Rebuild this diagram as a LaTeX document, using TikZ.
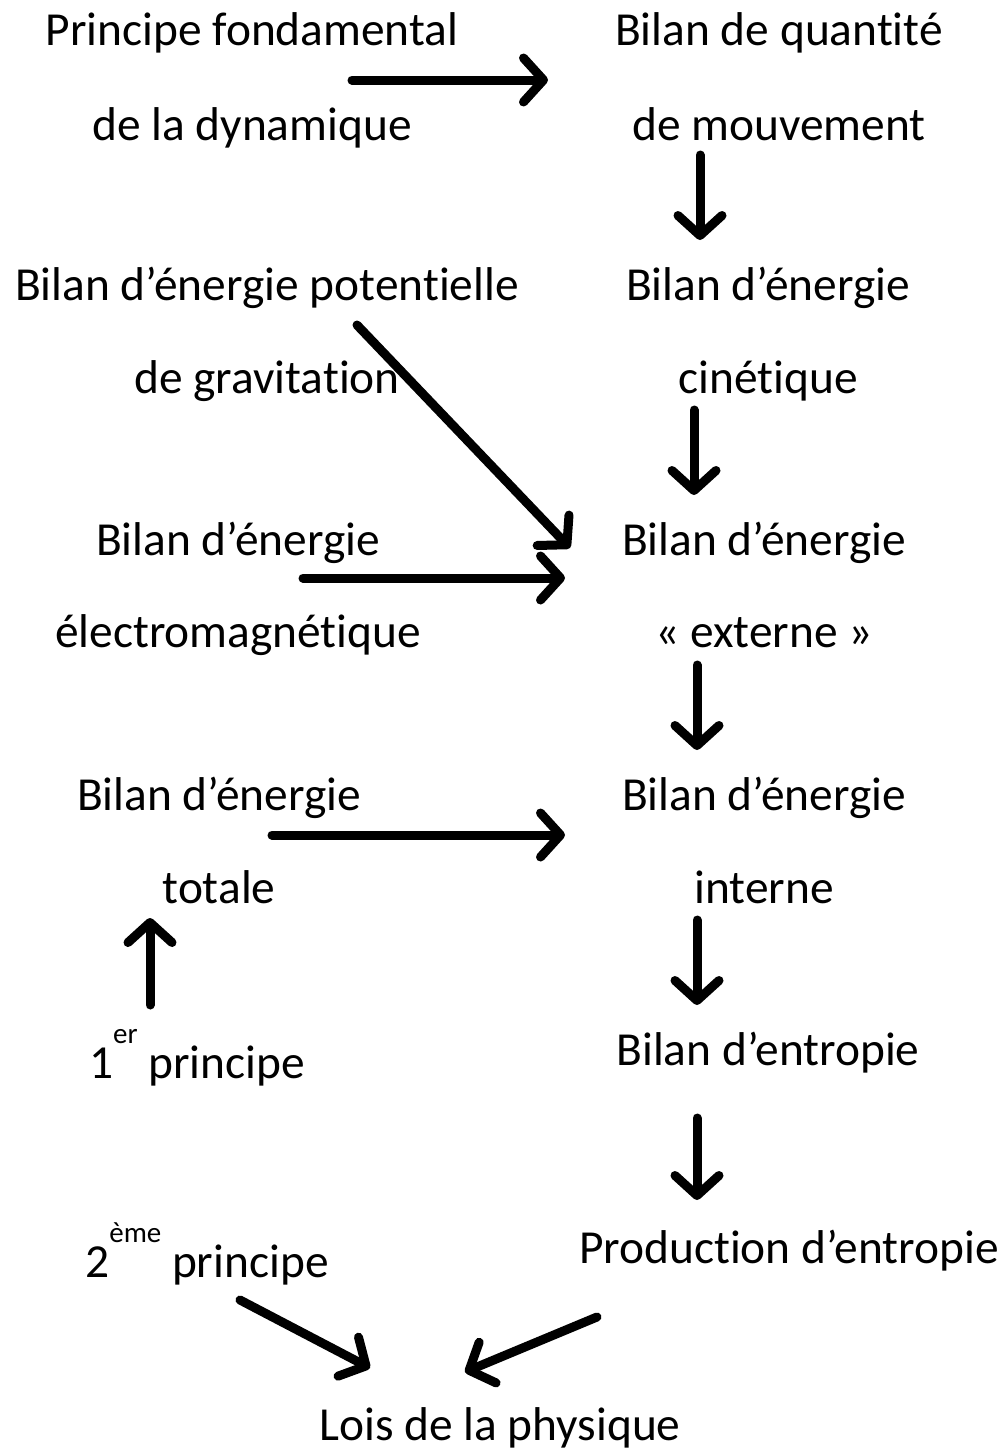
\documentclass[tikz,border=0pt]{standalone}
\usepackage{fontspec}
\setmainfont{Carlito}[Ligatures=NoCommon]
\usetikzlibrary{arrows.meta}

\begin{document}
\begin{tikzpicture}[x=1pt, y=-1pt,
    every node/.style={font=\fontsize{47.4}{56}\selectfont, inner sep=0pt, anchor=base},
    fleche/.style={line width=9pt, line cap=round, line join=round,
      -{Straight Barb[length=20pt, width=44pt, line cap=round, line join=round]}}]
  \useasboundingbox (0,0) rectangle (1007,1456);

  \node (pfdA) at (252,45) {Principe fondamental};
  \node (pfdB) at (252,140) {de la dynamique};
  \node (bqmA) at (779,45) {Bilan de quantité};
  \node (bqmB) at (779,140) {de mouvement};
  \node (potA) at (267,300) {Bilan d’énergie potentielle};
  \node (potB) at (267,393) {de gravitation};
  \node (cinA) at (768,300) {Bilan d’énergie};
  \node (cinB) at (768,393) {cinétique};
  \node (emA) at (238,555) {Bilan d’énergie};
  \node (emB) at (238,647) {électromagnétique};
  \node (extA) at (764,555) {Bilan d’énergie};
  \node (extB) at (764,647) {« externe »};
  \node (totA) at (219,810) {Bilan d’énergie};
  \node (totB) at (219,903) {totale};
  \node (intA) at (764,810) {Bilan d’énergie};
  \node (intB) at (764,903) {interne};
  \node (prem) at (197,1078) {1\raisebox{0.72em}{\fontsize{29}{29}\selectfont er} principe};
  \node (entr) at (768,1065) {Bilan d’entropie};
  \node (deux) at (207,1277) {2\raisebox{0.72em}{\fontsize{29}{29}\selectfont ème} principe};
  \node (prod) at (789,1263) {Production d’entropie};
  \node (lois) at (500,1440) {Lois de la physique};

  \coordinate (pfdOut) at (352,80);  \coordinate (bqmIn) at (548,80);
  \coordinate (bqmOut) at (700,155); \coordinate (cinIn) at (700,240);
  \coordinate (potOut) at (357,325); \coordinate (extInP) at (570,548);
  \coordinate (cinOut) at (694,410); \coordinate (extInC) at (694,495);
  \coordinate (emOut) at (303,578);  \coordinate (extInE) at (565,578);
  \coordinate (extOut) at (697,665); \coordinate (intInE) at (697,750);
  \coordinate (totOut) at (272,835); \coordinate (intInT) at (565,835);
  \coordinate (intOut) at (697,920); \coordinate (entrIn) at (697,1005);
  \coordinate (premOut) at (150,1005); \coordinate (totIn) at (150,918);
  \coordinate (entrOut) at (697,1118); \coordinate (prodIn) at (697,1200);
  \coordinate (deuxOut) at (240,1300); \coordinate (loisInD) at (370,1368);
  \coordinate (prodOut) at (597,1317); \coordinate (loisInP) at (465,1372);

  \draw[fleche] (pfdOut) -- (bqmIn);
  \draw[fleche] (bqmOut) -- (cinIn);
  \draw[fleche] (potOut) -- (extInP);
  \draw[fleche] (cinOut) -- (extInC);
  \draw[fleche] (emOut) -- (extInE);
  \draw[fleche] (extOut) -- (intInE);
  \draw[fleche] (totOut) -- (intInT);
  \draw[fleche] (intOut) -- (entrIn);
  \draw[fleche] (premOut) -- (totIn);
  \draw[fleche] (entrOut) -- (prodIn);
  \draw[fleche] (deuxOut) -- (loisInD);
  \draw[fleche] (prodOut) -- (loisInP);
\end{tikzpicture}
\end{document}
